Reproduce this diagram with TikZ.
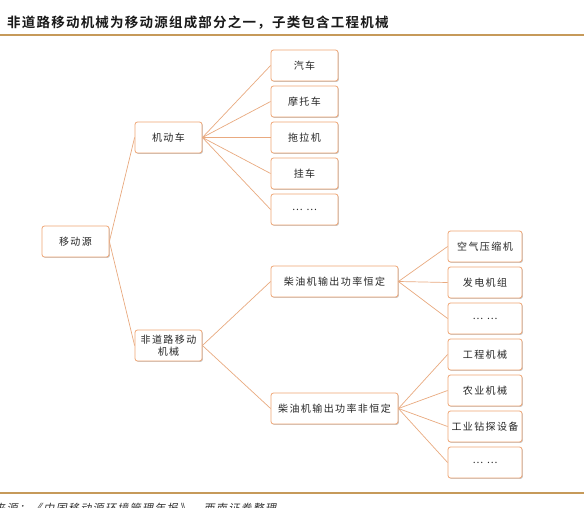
\documentclass[tikz,border=0pt]{standalone}
\usepackage{fontspec}
\setmainfont{Noto Sans CJK SC}
\newfontfamily\cjkbox[LetterSpace=14]{Noto Sans CJK SC}
\newfontfamily\cjktitle[LetterSpace=9]{Noto Sans CJK SC Bold}
\newfontfamily\cjkfoot[LetterSpace=12,FakeSlant=0.2]{Noto Sans CJK SC}
\usetikzlibrary{shadows}
\definecolor{rulegold}{HTML}{C69A5A}
\definecolor{boxorange}{HTML}{EFA574}
\definecolor{lineorange}{HTML}{E9AA80}
\begin{document}
\begin{tikzpicture}[x=1pt,y=-1pt,
  bx/.style={draw=boxorange, line width=0.8pt, rounded corners=2.5pt, fill=white,
    minimum height=31pt, inner sep=1pt, align=center,
    font=\cjkbox\fontsize{10}{12.5}\selectfont, text=black!85,
    drop shadow={shadow xshift=0.9pt, shadow yshift=-0.9pt, fill=black!22, opacity=1}},
  sbox/.style={bx, minimum width=67pt},
  wbox/.style={bx, minimum width=127pt},
  rbox/.style={bx, minimum width=74pt},
  conn/.style={draw=lineorange, line width=0.7pt}]
\clip (0,0) rectangle (584,508);
\fill[white] (0,0) rectangle (584,508);
% title and rules
\node[anchor=west, inner sep=0, font=\cjktitle\fontsize{13.5}{15}\selectfont, text=black!90] (title) at (7,23) {非道路移动机械为移动源组成部分之一，子类包含工程机械};
\draw[rulegold, line width=2pt] (0,35.5) coordinate (r1a) -- (584,35.5) coordinate (r1b);
\draw[rulegold, line width=2pt] (0,493) coordinate (r2a) -- (584,493) coordinate (r2b);
\node[anchor=base west, inner sep=0, font=\cjkfoot\fontsize{11}{13}\selectfont, text=black!80] (foot) at (-6,512) {来源：《中国移动源环境管理年报》，西南证券整理};
% nodes
\node[sbox] (root) at (75.5,241.5) {移动源};
\node[sbox] (mv) at (168.5,137.5) {机动车};
\node[sbox] (nr) at (168.5,345.5) {非道路移动\\[0pt]机械};
\node[sbox] (c1) at (304.5,65.5) {汽车};
\node[sbox] (c2) at (304.5,101.5) {摩托车};
\node[sbox] (c3) at (304.5,137.5) {拖拉机};
\node[sbox] (c4) at (304.5,173.5) {挂车};
\node[sbox] (c5) at (304.5,209.5) {… …};
\node[wbox] (d1) at (334.5,281.5) {柴油机输出功率恒定};
\node[wbox] (d2) at (334.5,408.5) {柴油机输出功率非恒定};
\node[rbox] (e1) at (485,246.5) {空气压缩机};
\node[rbox] (e2) at (485,282.5) {发电机组};
\node[rbox] (e3) at (485,318.5) {… …};
\node[rbox] (f1) at (485,354.5) {工程机械};
\node[rbox] (f2) at (485,390.5) {农业机械};
\node[rbox] (f3) at (485,426.5) {工业钻探设备};
\node[rbox] (f4) at (485,462.5) {… …};
% connectors
\foreach \t in {mv,nr} \draw[conn] (root.east) -- (\t.west);
\foreach \t in {c1,c2,c3,c4,c5} \draw[conn] (mv.east) -- (\t.west);
\foreach \t in {d1,d2} \draw[conn] (nr.east) -- (\t.west);
\foreach \t in {e1,e2,e3} \draw[conn] (d1.east) -- (\t.west);
\foreach \t in {f1,f2,f3,f4} \draw[conn] (d2.east) -- (\t.west);
\end{tikzpicture}
\end{document}
